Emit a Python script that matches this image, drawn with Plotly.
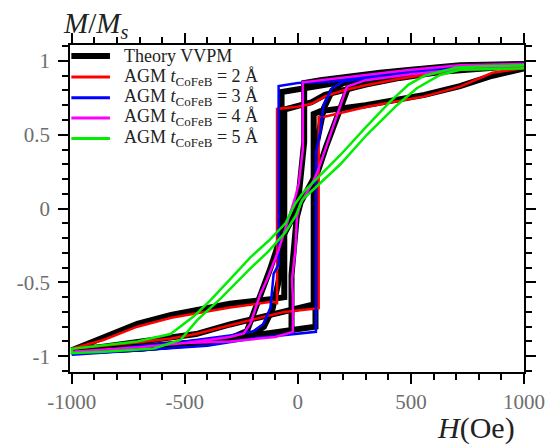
import plotly.graph_objects as go

# ---------------- data ----------------
# AGM t_CoFeB = 2 A  (red): descending branch then ascending branch
red_H = [1000, 860, 717, 560, 450, 300, 200, 120, 60, 0, -60, -92, -92, -110, -300, -420, -560, -710, -860, -1000,
         -1000, -860, -700, -560, -450, -300, -180, -60, 60, 92, 92, 114, 305, 420, 560, 717, 860, 1000]
red_M = [0.96, 0.95, 0.94, 0.905, 0.88, 0.835, 0.80, 0.76, 0.71, 0.69, 0.68, 0.675, -0.64, -0.63, -0.67, -0.70, -0.74, -0.80, -0.89, -0.95,
         -0.95, -0.93, -0.905, -0.88, -0.85, -0.79, -0.745, -0.70, -0.68, -0.675, 0.62, 0.62, 0.69, 0.72, 0.76, 0.826, 0.92, 0.95]

# AGM t_CoFeB = 3 A  (blue)
blue_H = [1000, 860, 700, 400, 158, 0, -85, -85, -107, -121, -151, -195, -300, -500, -700, -1000,
          -1000, -700, -400, -200, 0, 80, 80, 99, 114, 151, 200, 300, 500, 700, 860, 1000]
blue_M = [0.98, 0.97, 0.96, 0.92, 0.86, 0.85, 0.83, -0.38, -0.44, -0.67, -0.78, -0.83, -0.86, -0.90, -0.93, -0.99,
          -0.99, -0.96, -0.93, -0.88, -0.845, -0.835, 0.38, 0.52, 0.70, 0.815, 0.86, 0.88, 0.92, 0.95, 0.97, 0.98]

# AGM t_CoFeB = 4 A  (magenta)
mag_H = [1000, 717, 500, 364, 100, 22, 22, 4, -11, -40, -85, -136, -166, -210, -239, -300, -500, -700, -1000,
         -1000, -700, -500, -300, -100, -22, -22, -26, -11, -4, 11, 63, 85, 121, 158, 217, 300, 500, 700, 1000]
mag_M = [0.98, 0.97, 0.94, 0.917, 0.87, 0.855, 0.40, 0.17, 0.08, -0.06, -0.28, -0.48, -0.58, -0.78, -0.846, -0.87, -0.91, -0.94, -0.97,
         -0.97, -0.94, -0.91, -0.90, -0.87, -0.835, -0.60, -0.48, -0.28, -0.056, 0.035, 0.17, 0.24, 0.40, 0.555, 0.826, 0.87, 0.91, 0.94, 0.97]

# AGM t_CoFeB = 5 A  (green)
grn_H = [1000, 850, 703, 560, 490, 408, 300, 188, 63, 26, -11, -55, -130, -210, -300, -386, -460, -563, -710, -857, -1000,
         -1000, -857, -637, -519, -445, -342, -210, -130, -55, -10, 20, 63, 188, 305, 438, 526, 629, 717, 850, 1000]
grn_M = [0.97, 0.965, 0.955, 0.90, 0.84, 0.724, 0.55, 0.363, 0.171, 0.114, 0.035, -0.10, -0.22, -0.33, -0.48, -0.62, -0.73, -0.85, -0.90, -0.925, -0.95,
         -0.98, -0.97, -0.948, -0.89, -0.756, -0.61, -0.405, -0.29, -0.16, -0.05, 0.06, 0.12, 0.30, 0.50, 0.70, 0.815, 0.905, 0.94, 0.945, 0.95]

# Theory VVPM (black) curves
th2_H = [1000, 860, 717, 560, 450, 300, 200, 120, 60, -40, -60, -60, -100, -300, -420, -560, -710, -860, -1000,
         -1000, -860, -700, -560, -450, -300, -180, -60, 40, 70, 70, 100, 300, 450, 560, 717, 860, 1000]
th2_M = [0.97, 0.955, 0.945, 0.91, 0.885, 0.84, 0.805, 0.77, 0.72, 0.68, 0.67, -0.60, -0.61, -0.645, -0.68, -0.72, -0.78, -0.87, -0.95,
         -0.96, -0.935, -0.905, -0.88, -0.85, -0.785, -0.74, -0.69, -0.66, -0.65, 0.64, 0.66, 0.70, 0.74, 0.77, 0.83, 0.90, 0.95]

th3_H = [1000, 700, 400, 200, 0, -72, -72, -92, -112, -150, -200, -400, -700, -1000,
         -1000, -700, -400, -200, 0, 78, 78, 95, 115, 152, 200, 400, 700, 1000]
th3_M = [0.97, 0.95, 0.91, 0.86, 0.81, 0.79, -0.40, -0.52, -0.68, -0.80, -0.85, -0.90, -0.94, -0.97,
         -0.97, -0.95, -0.91, -0.86, -0.81, -0.80, 0.40, 0.52, 0.68, 0.80, 0.85, 0.90, 0.94, 0.97]

th4_H = [1000, 717, 500, 364, 100, 28, 28, 12, 2, -15, -65, -90, -125, -165, -225, -300, -500, -700, -1000,
         -1000, -700, -500, -300, -100, -28, -28, -15, -5, 12, 65, 90, 125, 165, 225, 300, 500, 700, 1000]
th4_M = [0.98, 0.97, 0.94, 0.92, 0.87, 0.85, 0.45, 0.25, 0.06, -0.04, -0.18, -0.26, -0.42, -0.58, -0.83, -0.88, -0.92, -0.95, -0.97,
         -0.97, -0.95, -0.92, -0.885, -0.85, -0.835, -0.45, -0.25, -0.06, 0.04, 0.18, 0.26, 0.42, 0.58, 0.83, 0.88, 0.92, 0.95, 0.97]

x_tickvals = [-1000, -500, 0, 500, 1000]
x_ticktext = ["-1000", "-500", "0", "500", "1000"]
y_tickvals = [-1, -0.5, 0, 0.5, 1]
y_ticktext = ["-1", "-0.5", "0", "0.5", "1"]

SUB = '<sub><span style="font-size:13px">CoFeB</span></sub>'
legend_names = ["Theory VVPM",
                "AGM <i>t</i>" + SUB + " = 2 Å",
                "AGM <i>t</i>" + SUB + " = 3 Å",
                "AGM <i>t</i>" + SUB + " = 4 Å",
                "AGM <i>t</i>" + SUB + " = 5 Å"]
legend_colors = ["black", "#ff0000", "#0000ff", "#ff00ff", "#00ee00"]
legend_widths = [6, 3, 3, 3, 3]

# ---------------- figure ----------------
SERIF = "Liberation Serif, DejaVu Serif, serif"
fig = go.Figure()

for i, (hh, mm) in enumerate([(th2_H, th2_M), (th3_H, th3_M), (th4_H, th4_M)]):
    fig.add_trace(go.Scatter(x=hh, y=mm, mode="lines", name=legend_names[0],
                             legendgroup="theory", showlegend=(i == 0),
                             line=dict(color=legend_colors[0], width=6)))

for (hh, mm), col, nm in zip([(red_H, red_M), (blue_H, blue_M), (mag_H, mag_M), (grn_H, grn_M)],
                             legend_colors[1:], legend_names[1:]):
    fig.add_trace(go.Scatter(x=hh, y=mm, mode="lines", name=nm,
                             line=dict(color=col, width=2.5)))

axis_common = dict(
    showline=True, linecolor="black", linewidth=1.5, mirror="allticks",
    ticks="outside", ticklen=10, tickwidth=1.5, tickcolor="black",
    showgrid=False, zeroline=False, automargin=False,
    tickfont=dict(family=SERIF, size=21, color="#6e6e6e"),
)

fig.update_xaxes(range=[-1007.5, 1000], tickmode="array", tickvals=x_tickvals, ticktext=x_ticktext,
                 minor=dict(tickmode="linear", tick0=0, dtick=100, ticks="outside", ticklen=6,
                            tickwidth=1.5, tickcolor="black"),
                 ticklabelstandoff=0, **axis_common)
fig.update_yaxes(range=[-1.107, 1.108], tickmode="array", tickvals=y_tickvals, ticktext=y_ticktext,
                 minor=dict(tickmode="linear", tick0=0, dtick=0.1, ticks="outside", ticklen=6,
                            tickwidth=1.5, tickcolor="black"),
                 ticklabelstandoff=4, **axis_common)

# legend drawn inside the plot, top-left (line samples + labels)
legend_y = [0.966, 0.902, 0.839, 0.777, 0.714]
shapes = []
annotations = []
for yy, nm, col, w in zip(legend_y, legend_names, legend_colors, legend_widths):
    shapes.append(dict(type="line", xref="paper", yref="paper", x0=0.003, x1=0.088, y0=yy, y1=yy,
                       line=dict(color=col, width=w)))
    annotations.append(dict(text=nm, xref="paper", yref="paper", x=0.115, y=yy,
                            xanchor="left", yanchor="middle", showarrow=False,
                            font=dict(family=SERIF, size=18, color="#222222")))

annotations.append(dict(text="<i>M</i>/<i>M<sub>s</sub></i>", xref="paper", yref="paper",
                        x=-0.02, y=1.062, xanchor="left", yanchor="middle", showarrow=False,
                        font=dict(family=SERIF, size=29, color="#222222")))
annotations.append(dict(text="<i>H</i>(Oe)", xref="paper", yref="paper",
                        x=0.805, y=-0.17, xanchor="left", yanchor="middle", showarrow=False,
                        font=dict(family=SERIF, size=30, color="#222222")))

# the page body adds an 8 px offset, so the figure is sized to fit the 555x444 window
fig.update_layout(
    width=547, height=436,
    margin=dict(l=62, r=31, t=37, b=72, autoexpand=False),
    paper_bgcolor="white", plot_bgcolor="white",
    font=dict(family=SERIF, color="black"),
    showlegend=False,
    shapes=shapes,
    annotations=annotations,
)

fig.write_html("out.html")
